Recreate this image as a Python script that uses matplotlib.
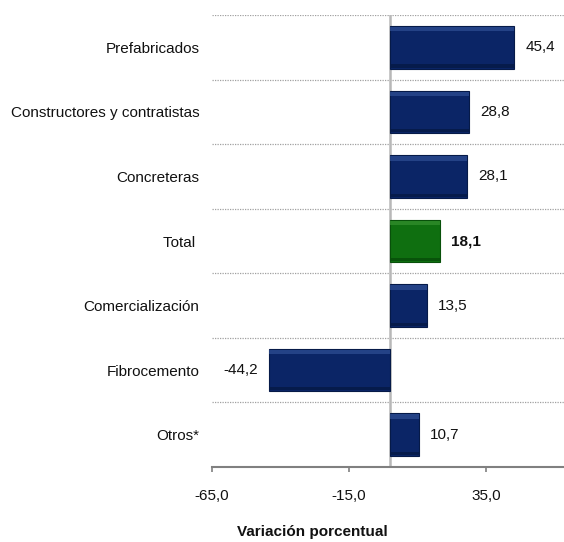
import matplotlib
matplotlib.use("Agg")
import matplotlib.pyplot as plt
import numpy as np

CATEGORIES = [
    "Prefabricados",
    "Constructores y contratistas",
    "Concreteras",
    "Total ",
    "Comercialización",
    "Fibrocemento",
    "Otros*",
]
VALUES = [45.4, 28.8, 28.1, 18.1, 13.5, -44.2, 10.7]
HIGHLIGHT = "Total "
XTICKS = [-65, -15, 35]

NAVY = "#0b2566"
NAVY_LIGHT = "#2f4f95"
NAVY_DARK = "#061a48"
GREEN = "#0f6f10"
GREEN_LIGHT = "#35902f"
GREEN_DARK = "#08500a"


def fmt(v):
    return f"{v:.1f}".replace(".", ",")


def main():
    plt.rcParams["font.family"] = ["Liberation Sans", "DejaVu Sans"]
    W, H = 564, 542
    fig = plt.figure(figsize=(W / 100, H / 100), dpi=100)
    ax = fig.add_axes([212 / W, (H - 467) / H, (564 - 212) / W, (467 - 15) / H])

    y = np.arange(len(CATEGORIES))
    hl = [c == HIGHLIGHT for c in CATEGORIES]
    face = [GREEN if h else NAVY for h in hl]
    light = [GREEN_LIGHT if h else NAVY_LIGHT for h in hl]
    dark = [GREEN_DARK if h else NAVY_DARK for h in hl]
    bh = 0.66

    ax.barh(y, VALUES, height=bh, color=face, edgecolor=dark, linewidth=0.8, zorder=3)
    # bevel highlights
    ax.barh(y - bh / 2 + 0.05, VALUES, height=0.07, color=light, linewidth=0, zorder=4, alpha=0.7)
    ax.barh(y + bh / 2 - 0.04, VALUES, height=0.05, color=dark, linewidth=0, zorder=4, alpha=0.9)

    ax.set_xlim(-65, 63.5)
    ax.set_ylim(len(CATEGORIES) - 0.5, -0.5)

    for i in range(len(CATEGORIES)):
        ax.axhline(i - 0.5, color="#a0a0a0", lw=0.9, ls=(0, (1, 1)), zorder=1)
    ax.axvline(0, color="#b8b8b8", lw=1.8, zorder=2)

    for yi, v, h in zip(y, VALUES, hl):
        off = 4.0 if v >= 0 else -4.0
        ax.text(v + off, yi, fmt(v), ha="left" if v >= 0 else "right", va="center",
                fontsize=11, color="#111111", fontweight="bold" if h else "normal")

    ax.set_yticks(y)
    ax.set_yticklabels(CATEGORIES, fontsize=11, color="#111111")
    ax.tick_params(axis="y", length=0, pad=9)
    ax.set_xticks(XTICKS)
    ax.set_xticklabels([fmt(t) for t in XTICKS], fontsize=11, color="#111111")
    ax.tick_params(axis="x", length=3.5, width=1.2, color="#808080", pad=12)

    for s in ("top", "right", "left"):
        ax.spines[s].set_visible(False)
    ax.spines["bottom"].set_color("#808080")
    ax.spines["bottom"].set_linewidth(1.5)

    fig.text(312 / W, (H - 532) / H, "Variación porcentual", ha="center", va="center",
             fontsize=11, fontweight="bold", color="#111111")

    fig.savefig("out.png", dpi=100)
    plt.close(fig)


if __name__ == "__main__":
    main()
